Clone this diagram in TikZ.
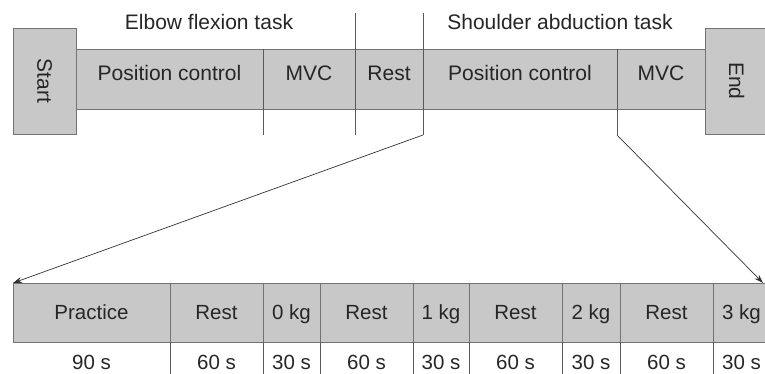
\documentclass[tikz,border=0pt]{standalone}
\usepackage{fontspec}
\setmainfont{Liberation Sans}
\usetikzlibrary{positioning,arrows.meta}
\definecolor{barfill}{RGB}{200,200,200}
\definecolor{barline}{RGB}{115,115,115}

\begin{document}
\begin{tikzpicture}[
		x=1pt,y=1pt,
		>={Stealth[length=9pt,width=6pt]},
		node distance=0pt,
		every node/.style={font=\fontsize{21}{25}\selectfont, text=black!85},
		seg/.style={
			draw=barline,
			fill=barfill,
			line width=0.8pt,
			inner sep=0pt,
			outer sep=0pt,
			minimum height=60pt,
			text height=15pt,
			text depth=12.6pt
		},
		phase/.style={
			seg,
			minimum height=59pt,
			text depth=0.6pt,
			font=\fontsize{20.5}{24}\selectfont
		},
		endbox/.style={seg, minimum width=63pt, minimum height=106pt, text height=, text depth=},
		divider/.style={draw=black!65, line width=0.7pt},
		zoomline/.style={->, draw=black!80, line width=0.7pt}
		]
		\useasboundingbox (0,0) rectangle (765,-374);
		
		% Overall session
		\node[endbox, anchor=north west] (start) at (13,-28) {\rotatebox{-90}{Start}};
		\node[seg, minimum width=187pt, anchor=north west] (pos1) at (76,-49) {Position control};
		\node[seg, minimum width=92pt, right=of pos1] (mvc1) {MVC};
		\node[seg, minimum width=68pt, right=of mvc1] (rest1) {Rest};
		\node[seg, minimum width=194pt, right=of rest1] (pos2) {Position control};
		\node[seg, minimum width=88pt, right=of pos2] (mvc2) {MVC};
		\node[endbox, anchor=north west] (end) at (705,-28) {\rotatebox{-90}{End}};
		
		% Task titles
		\node (elbow) at (209,-22) {Elbow flexion task};
		\node (shoulder) at (560,-22) {Shoulder abduction task};
		
		% Task separators
		\coordinate (cutL) at ([yshift=-26pt]pos2.south west);
		\coordinate (cutR) at ([yshift=-26pt]mvc2.south west);
		\draw[divider] (mvc1.north west) -- ([yshift=-26pt]mvc1.south west);
		\draw[divider] ([yshift=36pt]rest1.north west) -- ([yshift=-26pt]rest1.south west);
		\draw[divider] ([yshift=36pt]pos2.north west) -- (cutL);
		\draw[divider] (mvc2.north west) -- (cutR);
		
		% Position control protocol
		\node[phase, minimum width=157pt, anchor=north west] (prac) at (13,-283) {Practice};
		\node[phase, minimum width=93pt, right=of prac] (r1) {Rest};
		\node[phase, minimum width=57pt, right=of r1] (k0) {0 kg};
		\node[phase, minimum width=93pt, right=of k0] (r2) {Rest};
		\node[phase, minimum width=56pt, right=of r2] (k1) {1 kg};
		\node[phase, minimum width=93pt, right=of k1] (r3) {Rest};
		\node[phase, minimum width=58pt, right=of r3] (k2) {2 kg};
		\node[phase, minimum width=93pt, right=of k2] (r4) {Rest};
		\node[phase, minimum width=57pt, right=of r4] (k3) {3 kg};
		
		% Durations
		\foreach \n/\t in {prac/90 s, r1/60 s, k0/30 s, r2/60 s, k1/30 s, r3/60 s, k2/30 s, r4/60 s, k3/30 s}
		\node[font=\fontsize{20.5}{24}\selectfont] (d-\n) at ([yshift=-20pt]\n.south) {\t};
		\foreach \n in {r1,k0,r2,k1,r3,k2,r4,k3}
		\draw[divider] (\n.south west) -- ++(0,-34);
		
		% Zoom lines
		\draw[zoomline] (cutL) -- (prac.north west);
		\draw[zoomline] (cutR) -- ([xshift=-7pt]k3.north east);
	\end{tikzpicture}
\end{document}
